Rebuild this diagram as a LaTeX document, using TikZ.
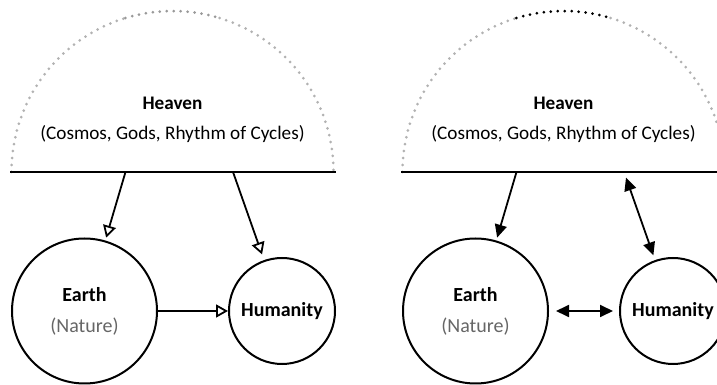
\documentclass[tikz,border=0pt]{standalone}
\usepackage{fontspec}
\setmainfont{Carlito}
\usepackage{tikz}
\usetikzlibrary{arrows.meta}

\begin{document}
\begin{tikzpicture}[x=0.5pt,y=0.5pt,
		sphere/.style={draw,circle,line width=1pt,inner sep=0pt,align=center,font=\bfseries},
		heavendots/.style={gray!60,line width=1.5pt,line cap=round,dash pattern=on 0pt off 3.5pt},
		openarr/.style={-{Triangle[open,length=6pt,width=6.5pt]},line width=0.9pt},
		fullarr/.style={-{Triangle[length=6.5pt,width=6pt]},line width=0.9pt},
		bothfull/.style={{Triangle[length=6.5pt,width=6pt]}-{Triangle[length=6.5pt,width=6pt]},line width=0.9pt}]
		\clip (0,0) rectangle (717,385);
		
		\foreach \p/\dx/\topcol in {L/0/gray!80,R/391/black}{
			\draw[heavendots] (\dx+172.5,213) ++(180:161) arc (180:107:161);
			\draw[heavendots,\topcol] (\dx+172.5,213) ++(107:161) arc (107:73:161);
			\draw[heavendots] (\dx+172.5,213) ++(73:161) arc (73:0:161);
			\draw[line width=1.2pt] (\dx+10,213) -- (\dx+336,213);
			\node[align=center,font=\fontsize{9.6pt}{12pt}\selectfont] (heaven\p) at (\dx+172.5,265) {\textbf{Heaven}\\[3pt](Cosmos, Gods, Rhythm of Cycles)};
			\node[sphere,minimum size=72.5pt] (earth\p) at (\dx+84.5,74) {Earth\\[3.5pt]{\mdseries\color{black!60}(Nature)}};
			\node[sphere,minimum size=53pt] (hum\p) at (\dx+282,74) {Humanity};
			\coordinate (sky1\p) at (\dx+125.5,213);
			\coordinate (sky2\p) at (\dx+233,213);
		}
		
		\draw[openarr,shorten >=1.5pt] (sky1L) -- (earthL);
		\draw[openarr,shorten >=3pt] (sky2L) -- (humL);
		\draw[openarr] (earthL) -- (humL);
		
		\draw[fullarr,shorten >=1.5pt] (sky1R) -- (earthR);
		\draw[bothfull,shorten <=3pt,shorten >=2.5pt] (sky2R) -- (humR);
		\draw[bothfull,shorten <=3.5pt,shorten >=3pt] (earthR) -- (humR);
	\end{tikzpicture}
\end{document}
